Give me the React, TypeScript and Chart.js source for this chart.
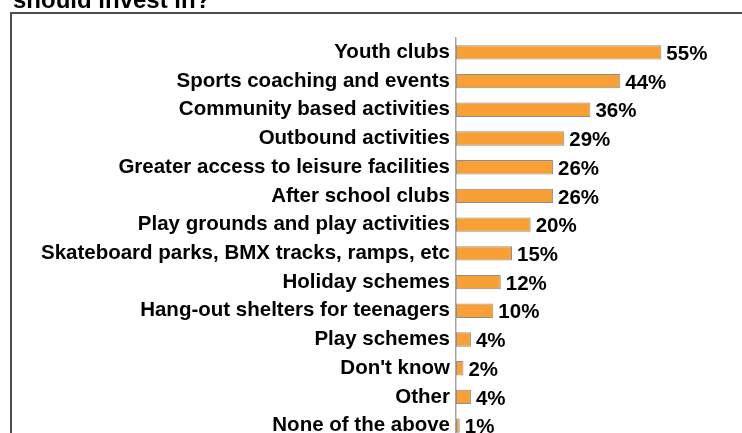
import React, { useEffect, useRef } from "react";
import { Chart, registerables } from "chart.js";

Chart.register(...registerables);

const categories = [
  "Youth clubs",
  "Sports coaching and events",
  "Community based activities",
  "Outbound activities",
  "Greater access to leisure facilities",
  "After school clubs",
  "Play grounds and play activities",
  "Skateboard parks, BMX tracks, ramps, etc",
  "Holiday schemes",
  "Hang-out shelters for teenagers",
  "Play schemes",
  "Don't know",
  "Other",
  "None of the above",
];

const percentages = [55, 44, 36, 29, 26, 26, 20, 15, 12, 10, 4, 2, 4, 1];

const titleText = "should invest in?";

const FONT = '"Liberation Sans", Arial, sans-serif';

const framePlugin = {
  id: "frame",
  beforeDraw(chart: any) {
    const ctx = chart.ctx;
    ctx.save();
    ctx.fillStyle = "#ffffff";
    ctx.fillRect(0, 0, chart.width, chart.height);
    ctx.strokeStyle = "#4d4d4d";
    ctx.lineWidth = 2;
    ctx.beginPath();
    ctx.moveTo(11, chart.height);
    ctx.lineTo(11, 13);
    ctx.lineTo(chart.width, 13);
    ctx.stroke();
    ctx.fillStyle = "#000000";
    ctx.font = `bold 24px ${FONT}`;
    ctx.textBaseline = "alphabetic";
    ctx.textAlign = "left";
    ctx.fillText(titleText, 13, 8);
    ctx.restore();
  },
};

const valueLabelPlugin = {
  id: "valueLabels",
  afterDatasetsDraw(chart: any) {
    const ctx = chart.ctx;
    const meta = chart.getDatasetMeta(0);
    ctx.save();
    ctx.fillStyle = "#000000";
    ctx.font = `bold 20.5px ${FONT}`;
    ctx.textBaseline = "middle";
    ctx.textAlign = "left";
    meta.data.forEach((bar: any, i: number) => {
      ctx.fillText(`${percentages[i]}%`, bar.x + 5, bar.y + 2);
    });
    ctx.restore();
  },
};

export default function App() {
  const canvasRef = useRef<HTMLCanvasElement | null>(null);

  useEffect(() => {
    if (!canvasRef.current) return;
    const chart = new Chart(canvasRef.current, {
      type: "bar",
      data: {
        labels: categories,
        datasets: [
          {
            data: percentages,
            backgroundColor: "#F8A036",
            borderColor: "#8f8f8f",
            borderWidth: 1,
            borderSkipped: false,
            categoryPercentage: 1,
            barPercentage: 0.5,
          },
        ],
      },
      options: {
        indexAxis: "y",
        animation: false,
        responsive: false,
        maintainAspectRatio: false,
        layout: { padding: { top: 38, bottom: 20, left: 0, right: 6 } },
        plugins: {
          legend: { display: false },
          title: { display: false },
          tooltip: { enabled: false },
        },
        scales: {
          x: {
            display: false,
            min: 0,
            max: 75,
          },
          y: {
            afterFit: (scale: any) => {
              scale.width = 456;
            },
            grid: { display: false, drawTicks: false },
            border: { display: true, color: "#a6a6a6", width: 1.5 },
            ticks: {
              color: "#000000",
              padding: 6,
              font: { family: FONT, size: 20.5, weight: "bold" },
            },
          },
        },
      },
      plugins: [framePlugin, valueLabelPlugin],
    });
    return () => chart.destroy();
  }, []);

  return (
    <div style={{ position: "fixed", left: 0, top: 0, width: 742, height: 460 }}>
      <canvas ref={canvasRef} width={742} height={460} style={{ display: "block" }} />
    </div>
  );
}
